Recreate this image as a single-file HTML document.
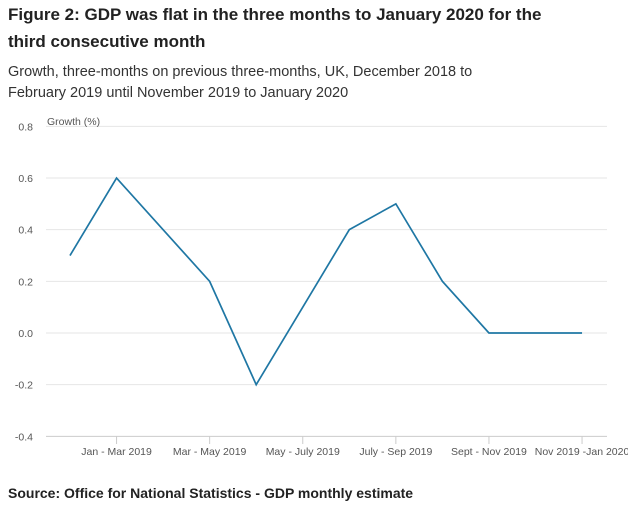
<!DOCTYPE html>
<html><head><meta charset="utf-8"><style>
body{margin:0;width:628px;height:509px;background:#fff;font-family:"Liberation Sans",sans-serif;color:#222;position:relative;overflow:hidden}
#title{position:absolute;left:8px;top:1px;font-size:17px;font-weight:bold;line-height:27px;width:540px}
#sub{position:absolute;left:8px;top:62px;font-size:14.5px;line-height:21px;color:#333}
#src{position:absolute;left:8px;top:485px;font-size:14px;font-weight:bold}
svg{position:absolute;left:0;top:0}
</style></head><body>
<div id="title">Figure 2: GDP was flat in the three months to January 2020 for the third consecutive month</div>
<div id="sub">Growth, three-months on previous three-months, UK, December 2018 to<br>February 2019 until November 2019 to January 2020</div>
<svg id="chart" width="628" height="509"></svg>
<div id="src">Source: Office for National Statistics - GDP monthly estimate</div>
<script>
const categories=["Dec - Feb 2019","Jan - Mar 2019","Feb - Apr 2019","Mar - May 2019","Apr - Jun 2019","May - July 2019","Jun - Aug 2019","July - Sep 2019","Aug - Oct 2019","Sept - Nov 2019","Oct - Dec 2019","Nov 2019 -Jan 2020"];
const values=[0.3,0.6,0.4,0.2,-0.2,0.1,0.4,0.5,0.2,0.0,0.0,0.0];
const yTicks=[-0.4,-0.2,0.0,0.2,0.4,0.6,0.8];
const xLabelIdx=[1,3,5,7,9,11];
const NS="http://www.w3.org/2000/svg";
const svg=document.getElementById('chart');
const y=v=>333-v*258.3;
const x=i=>70+i*46.55;
function el(t,a){const e=document.createElementNS(NS,t);for(const k in a)e.setAttribute(k,a[k]);svg.appendChild(e);return e;}
yTicks.forEach(t=>{
 const g=el('line',{x1:46,x2:607,y1:y(t),y2:y(t),stroke:t===-0.4?'#ccc':'#e6e6e6','stroke-width':1});
 
 
 const l=el('text',{x:33,y:y(t)+4,'text-anchor':'end','font-size':10.5,fill:'#555','font-family':'Liberation Sans, sans-serif'});
 l.textContent=t.toFixed(1);
 
 
});
const yt=el('text',{x:47,y:125,'font-size':10.5,fill:'#555','font-family':'Liberation Sans, sans-serif'});
yt.textContent='Growth (%)';


xLabelIdx.forEach(i=>{
 const tk=el('line',{x1:x(i),x2:x(i),y1:436,y2:444,stroke:'#ccc'});
 
 
 const l=el('text',{x:x(i),y:455,'text-anchor':'middle','font-size':10.5,fill:'#555','font-family':'Liberation Sans, sans-serif'});
 l.textContent=categories[i];
 
 
});
const p=el('polyline',{points:values.map((v,i)=>x(i)+','+y(v)).join(' '),fill:'none',stroke:'#1f77a4','stroke-width':1.7});


</script>
</body></html>
